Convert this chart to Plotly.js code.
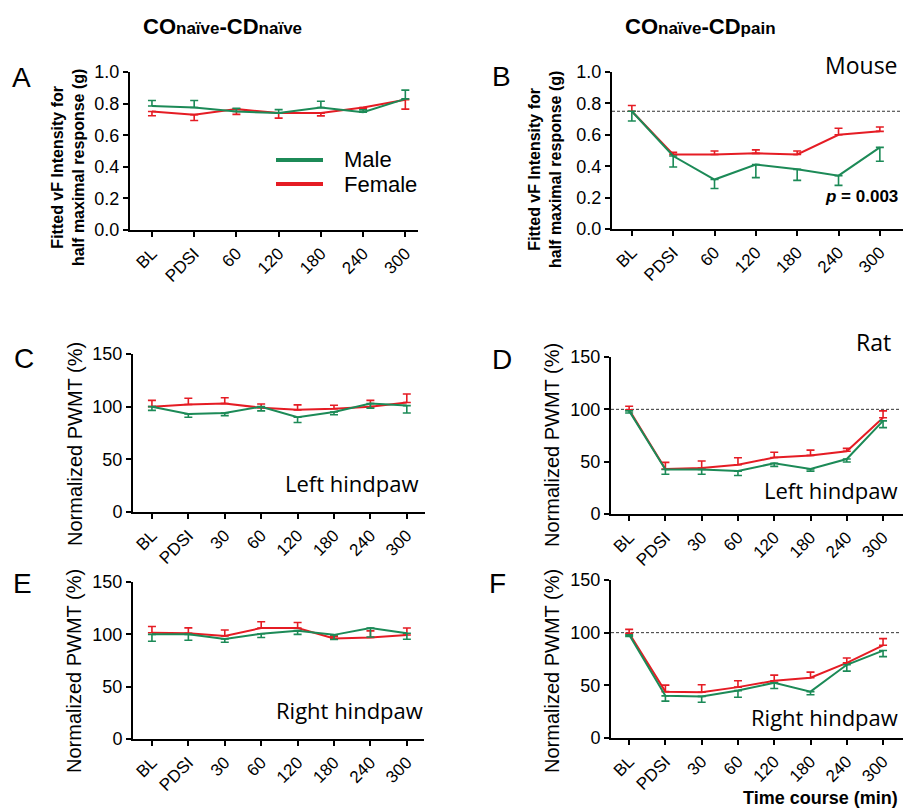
<!DOCTYPE html>
<html>
<head>
<meta charset="utf-8">
<script src="https://cdn.plot.ly/plotly-3.0.1.min.js"></script>
<style>html,body{margin:0;padding:0;background:#fff;}#chart{width:903px;height:811px;}</style>
</head>
<body>
<div id="chart"></div>
<script>
// ---- data ----
var catsMouse = ['BL','PDSI','60','120','180','240','300'];
var catsRat = ['BL','PDSI','30','60','120','180','240','300'];

var A_male = [0.785, 0.775, 0.75, 0.74, 0.775, 0.745, 0.83];
var A_male_err = [0.035, 0.045, 0.02, 0.022, 0.04, 0.015, 0.055];
var A_female = [0.75, 0.73, 0.765, 0.74, 0.74, 0.775, 0.825];
var A_female_err = [0.027, 0.037, 0.033, 0.032, 0.018, 0.008, 0.06];

var B_male = [0.75, 0.465, 0.315, 0.41, 0.38, 0.34, 0.52];
var B_male_err = [0.062, 0.07, 0.057, 0.083, 0.07, 0.062, 0.088];
var B_female = [0.75, 0.475, 0.475, 0.482, 0.475, 0.6, 0.622];
var B_female_err = [0.037, 0.013, 0.022, 0.022, 0.022, 0.042, 0.028];

var C_male = [100, 93, 94, 100, 90, 95, 103, 101];
var C_male_err = [3.5, 3, 2.5, 4, 5, 2.7, 4.4, 7];
var C_female = [100, 102, 103, 99, 97, 98, 100, 104];
var C_female_err = [6, 6, 5.5, 3.5, 4.7, 3.3, 6, 8];

var D_male = [98.5, 42.5, 42.5, 41, 48.5, 43, 52.5, 89];
var D_male_err = [2, 4.5, 4.5, 4.2, 3, 2, 2.8, 6.5];
var D_female = [99.5, 43, 44, 47, 54, 56, 60, 92];
var D_female_err = [3.5, 6.3, 6.6, 6.8, 5, 5, 2.7, 6.5];

var E_male = [100, 100, 95.5, 100.5, 103.5, 99.5, 106, 101];
var E_male_err = [6.6, 5.7, 3, 3.5, 3.5, 4.5, 8.5, 5.7];
var E_female = [101.5, 101, 98.5, 106, 106, 96, 97, 99.3];
var E_female_err = [6, 5.2, 5.7, 6, 5.3, 2.3, 6.3, 6.7];

var F_male = [98, 40, 39.5, 45, 52.5, 44, 69.5, 83];
var F_male_err = [1.5, 5, 5.5, 6.3, 5.5, 3, 6, 5.7];
var F_female = [99.5, 44, 43.5, 48.3, 54.3, 57.2, 71.3, 88];
var F_female_err = [3.6, 6.2, 7, 6, 5.4, 5.3, 4.7, 6.3];

var baselineMouse = 0.75;
var baselineRat = 100;

// ---- styling ----
var GREEN = '#1c8a57';
var RED = '#e51c24';
var W = 903, H = 811;
function fx(px){ return px / W; }
function fy(py){ return 1 - py / H; }

function zeros(n){ var a = []; for (var i = 0; i < n; i++) a.push(0); return a; }

function series(cats, vals, errs, color, up, idx){
  var n = vals.length;
  return {
    type: 'scatter', mode: 'lines', x: cats, y: vals,
    xaxis: 'x' + (idx === 1 ? '' : idx), yaxis: 'y' + (idx === 1 ? '' : idx),
    line: {color: color, width: 2},
    error_y: {
      type: 'data', symmetric: false,
      array: up ? errs : zeros(n),
      arrayminus: up ? zeros(n) : errs,
      color: color, thickness: 1.6, width: 4
    },
    showlegend: false, hoverinfo: 'skip'
  };
}

var data = [
  series(catsMouse, A_female, A_female_err, RED, false, 1),
  series(catsMouse, A_male, A_male_err, GREEN, true, 1),
  series(catsMouse, B_female, B_female_err, RED, true, 2),
  series(catsMouse, B_male, B_male_err, GREEN, false, 2),
  series(catsRat, C_female, C_female_err, RED, true, 3),
  series(catsRat, C_male, C_male_err, GREEN, false, 3),
  series(catsRat, D_female, D_female_err, RED, true, 4),
  series(catsRat, D_male, D_male_err, GREEN, false, 4),
  series(catsRat, E_female, E_female_err, RED, true, 5),
  series(catsRat, E_male, E_male_err, GREEN, false, 5),
  series(catsRat, F_female, F_female_err, RED, true, 6),
  series(catsRat, F_male, F_male_err, GREEN, false, 6)
];

var F_AR = '"Liberation Sans", Arial, sans-serif';
var F_OS = '"Open Sans", sans-serif';

var tickFont = {family: F_AR, size: 17, color: '#000'};
var ytickFont = {family: F_AR, size: 18, color: '#000'};

function xax(x0, x1, yanchor, range){
  return {
    domain: [fx(x0), fx(x1)], anchor: yanchor, type: 'category', range: range,
    showline: true, linecolor: '#000', linewidth: 2,
    ticks: 'outside', ticklen: 5, tickwidth: 2, tickcolor: '#000',
    tickangle: -45, tickfont: tickFont, showgrid: false, zeroline: false, fixedrange: true
  };
}
function yax(yTop, yBot, xanchor, range, dtick, fmt){
  return {
    domain: [fy(yBot), fy(yTop)], anchor: xanchor, range: range, dtick: dtick, tick0: 0,
    tickformat: fmt,
    showline: true, linecolor: '#000', linewidth: 2,
    ticks: 'outside', ticklen: 5, tickwidth: 2, tickcolor: '#000',
    tickfont: ytickFont, showgrid: false, zeroline: false, fixedrange: true
  };
}

function ann(text, x, y, size, opts){
  var a = {text: text, x: fx(x), y: fy(y), xref: 'paper', yref: 'paper', showarrow: false,
    font: {family: F_AR, size: size, color: '#000'}, xanchor: 'center', yanchor: 'middle'};
  if (opts) for (var k in opts) { if (k === 'font') { for (var f in opts.font) a.font[f] = opts.font[f]; } else a[k] = opts[k]; }
  return a;
}

var vfTitle = '<b>Fitted vF Intensity for<br>half maximal response (g)</b>';
var pwmtTitle = 'Normalized PWMT (%)';

var annotations = [
  ann('<b>CO<span style="font-size:17px">naïve</span>-CD<span style="font-size:17px">naïve</span></b>', 222, 27, 22),
  ann('<b>CO<span style="font-size:17px">naïve</span>-CD<span style="font-size:17px">pain</span></b>', 700, 27, 22),
  ann('A', 21, 77, 28), ann('B', 501, 76, 28),
  ann('C', 24, 358, 28), ann('D', 502, 360, 28),
  ann('E', 22, 583, 28), ann('F', 498, 583, 28),
  ann(vfTitle, 68, 168, 16, {textangle: -90}),
  ann(vfTitle, 545, 170, 16, {textangle: -90}),
  ann(pwmtTitle, 75, 444, 20, {textangle: -90}),
  ann(pwmtTitle, 552, 445, 20, {textangle: -90}),
  ann(pwmtTitle, 74, 671, 20, {textangle: -90}),
  ann(pwmtTitle, 552, 671, 20, {textangle: -90}),
  ann('Mouse', 900, 65, 23, {xanchor: 'right', font: {family: F_OS}}),
  ann('Rat', 893, 342, 23, {xanchor: 'right', font: {family: F_OS}}),
  ann('Left hindpaw', 421, 483, 22, {xanchor: 'right', font: {family: F_OS}}),
  ann('Left hindpaw', 900, 490, 22, {xanchor: 'right', font: {family: F_OS}}),
  ann('Right hindpaw', 425, 710, 22, {xanchor: 'right', font: {family: F_OS}}),
  ann('Right hindpaw', 900, 717, 22, {xanchor: 'right', font: {family: F_OS}}),
  ann('<b><i>p</i> = 0.003</b>', 900, 196, 17, {xanchor: 'right'}),
  ann('<b>Time course (min)</b>', 900, 798, 18, {xanchor: 'right'}),
  ann('Male', 342, 159, 22, {xanchor: 'left'}),
  ann('Female', 342, 184, 22, {xanchor: 'left'})
];

var shapes = [
  {type: 'line', xref: 'paper', yref: 'paper', x0: fx(276), x1: fx(323), y0: fy(160), y1: fy(160), line: {color: GREEN, width: 4}},
  {type: 'line', xref: 'paper', yref: 'paper', x0: fx(276), x1: fx(323), y0: fy(184), y1: fy(184), line: {color: RED, width: 4}},
  {type: 'line', xref: 'x2 domain', yref: 'y2', x0: 0, x1: 0.99, y0: baselineMouse, y1: baselineMouse, line: {color: '#333', width: 1, dash: '3px,2px'}, layer: 'below'},
  {type: 'line', xref: 'x4 domain', yref: 'y4', x0: 0, x1: 0.99, y0: baselineRat, y1: baselineRat, line: {color: '#333', width: 1, dash: '3px,2px'}, layer: 'below'},
  {type: 'line', xref: 'x6 domain', yref: 'y6', x0: 0, x1: 0.99, y0: baselineRat, y1: baselineRat, line: {color: '#333', width: 1, dash: '3px,2px'}, layer: 'below'}
];

var layout = {
  width: W, height: H, margin: {l: 0, r: 0, t: 0, b: 0},
  paper_bgcolor: '#fff', plot_bgcolor: 'rgba(0,0,0,0)', showlegend: false,
  font: {family: F_AR, color: '#000'},
  xaxis: xax(130, 418, 'y', [-0.52, 6.3]),
  yaxis: yax(72, 230, 'x', [0, 1], 0.2, '.1f'),
  xaxis2: xax(612, 903, 'y2', [-0.48, 6.56]),
  yaxis2: yax(72, 229, 'x2', [0, 1], 0.2, '.1f'),
  xaxis3: xax(133, 425, 'y3', [-0.52, 7.5]),
  yaxis3: yax(354, 512, 'x3', [0, 150], 50, 'd'),
  xaxis4: xax(611, 903, 'y4', [-0.5, 7.55]),
  yaxis4: yax(357, 514, 'x4', [0, 150], 50, 'd'),
  xaxis5: xax(133, 424, 'y5', [-0.52, 7.47]),
  yaxis5: yax(582, 739, 'x5', [0, 150], 50, 'd'),
  xaxis6: xax(611, 903, 'y6', [-0.5, 7.55]),
  yaxis6: yax(580, 738, 'x6', [0, 150], 50, 'd'),
  annotations: annotations,
  shapes: shapes
};

Plotly.newPlot('chart', data, layout, {displayModeBar: false, staticPlot: true});
</script>
</body>
</html>
